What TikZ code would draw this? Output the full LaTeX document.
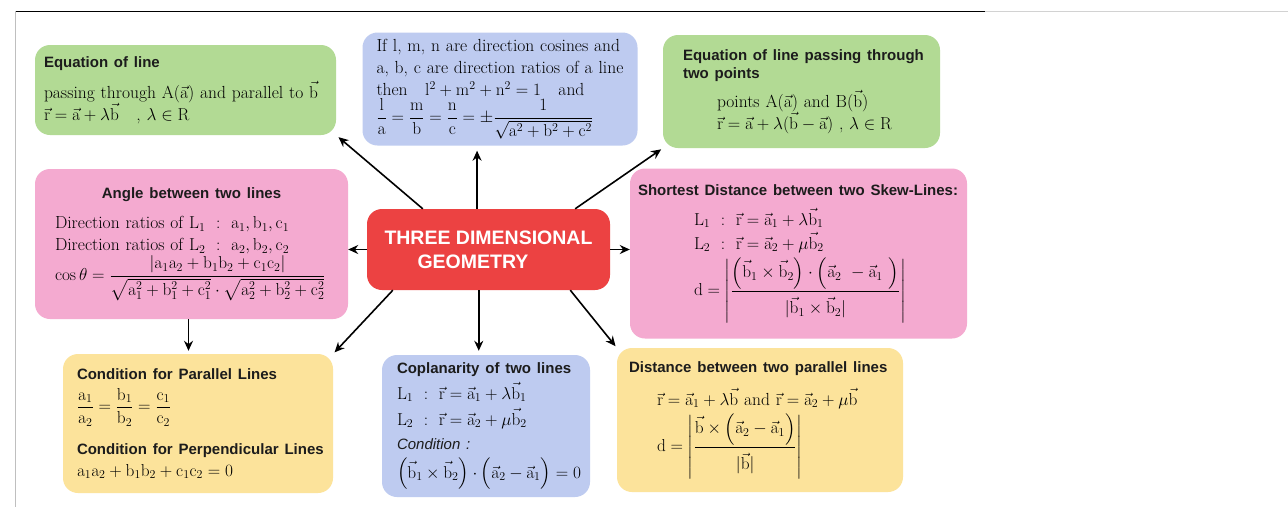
\documentclass[tikz,border=0pt]{standalone}
\usepackage{amsmath,amssymb}
\usepackage[no-math]{fontspec}
\usepackage{xcolor}
\usepackage{tikz}
\usetikzlibrary{arrows.meta, positioning, calc}
\newfontfamily\headfont{Liberation Sans}
\definecolor{leafgreen}{RGB}{178,218,148}
\definecolor{skyblue}{RGB}{190,203,240}
\definecolor{candypink}{RGB}{244,170,208}
\definecolor{sandyellow}{RGB}{252,227,155}
\definecolor{hubred}{RGB}{236,66,66}
\definecolor{inkgray}{RGB}{28,28,28}
\newcommand{\hd}[1]{{\headfont\bfseries\fontsize{15}{18}\selectfont\color{inkgray}#1}}
\newcommand{\veca}{\vec{\mathrm{a}}}
\newcommand{\vecb}{\vec{\mathrm{b}}}
\newcommand{\vecr}{\vec{\mathrm{r}}}

\begin{document}
\begin{tikzpicture}[
    x=1pt, y=-1pt,
    infobox/.style={rectangle, rounded corners=15pt, inner xsep=9pt, inner ysep=4pt, align=left, font=\fontsize{17.5}{22}\selectfont},
    greenbox/.style={infobox, fill=leafgreen},
    bluebox/.style={infobox, fill=skyblue},
    pinkbox/.style={infobox, fill=candypink},
    yellowbox/.style={infobox, fill=sandyellow},
    hubbox/.style={rectangle, rounded corners=15pt, fill=hubred, text=white, align=left, font=\headfont\bfseries\fontsize{19.5}{24}\selectfont},
    arrow/.style={-{Stealth[length=10pt,width=9pt]}, line width=1.6pt, black}
]
\fill[white] (0,0) rectangle (1288,507);
\useasboundingbox (0,0) rectangle (1288,507);
% frame of the page
\draw[line width=1pt, black] (15,11) -- (985,11);
\draw[line width=0.8pt, gray!35] (985,11) -- (1288,11);
\draw[line width=0.8pt, gray!50] (15,11) -- (15,507);

% centre
\node[hubbox, minimum width=243pt, minimum height=81pt] (hub) at (488.5,249.5)
  {THREE DIMENSIONAL\\\hspace*{33pt}GEOMETRY};

% top row
\node[greenbox, minimum width=301pt, minimum height=90pt, text width=283pt] (eqline) at (185.5,90)
  {\hd{Equation of line}\\[9pt]
   passing through A($\veca$) and parallel to $\vecb$\\
   $\vecr = \veca + \lambda\vecb$ \ \ , $\lambda\in\mathrm{R}$};
\node[bluebox, minimum width=275pt, minimum height=113pt, text width=265pt, inner xsep=5pt] (dircos) at (500,89)
  {\hspace*{9pt}If l, m, n are direction cosines and\\
   \hspace*{9pt}a, b, c are direction ratios of a line\\
   \hspace*{9pt}then\quad $\mathrm{l^2+m^2+n^2=1}$\quad and\\[1pt]
   \hspace*{9pt}$\mathrm{\dfrac{l}{a}=\dfrac{m}{b}=\dfrac{n}{c}=\pm\dfrac{1}{\sqrt{a^2+b^2+c^2}}}$};
\node[greenbox, minimum width=277pt, minimum height=113pt, text width=257pt] (twopt) at (801.5,91.5)
  {\hspace*{10pt}\hd{Equation of line passing through}\\[-4pt]
   \hspace*{10pt}\hd{two points}\\[7pt]
   \hspace*{44pt}points A($\veca$) and B($\vecb$)\\
   \hspace*{44pt}$\vecr = \veca + \lambda(\vecb - \veca)$ , $\lambda\in\mathrm{R}$};

% middle row
\node[pinkbox, minimum width=313pt, minimum height=150pt, text width=295pt] (angle) at (191.5,244)
  {\makebox[\linewidth]{\hd{Angle between two lines}}\\[8pt]
   \hspace*{11pt}Direction ratios of $\mathrm{L_1\ :\ a_1, b_1, c_1}$\\
   \hspace*{11pt}Direction ratios of $\mathrm{L_2\ :\ a_2, b_2, c_2}$\\[1pt]
   \hspace*{11pt}$\cos\theta = \dfrac{\mathrm{|a_1a_2+b_1b_2+c_1c_2|}}{\sqrt{\mathrm{a_1^2+b_1^2+c_1^2}}\cdot\sqrt{\mathrm{a_2^2+b_2^2+c_2^2}}}$};
\node[pinkbox, minimum width=337pt, minimum height=170pt, text width=321pt, inner xsep=8pt] (skew) at (798.5,253.5)
  {\hd{Shortest Distance between two Skew-Lines:}\\[8pt]
   \hspace*{56pt}$\mathrm{L_1}\ :\ \vecr = \veca_1 + \lambda\vecb_1$\\[2pt]
   \hspace*{56pt}$\mathrm{L_2}\ :\ \vecr = \veca_2 + \mu\vecb_2$\\[4pt]
   \hspace*{56pt}$\mathrm{d} = \left|\dfrac{\Bigl(\vecb_1\times\vecb_2\Bigr)\cdot\Bigl(\veca_2\ -\veca_1\ \Bigr)}{\rule{0pt}{20pt}|\vecb_1\times\vecb_2|}\right|$};

% bottom row
\node[yellowbox, minimum width=270pt, minimum height=139pt, text width=252pt] (parallel) at (198,423.5)
  {\hspace*{5pt}\hd{Condition for Parallel Lines}\\[8pt]
   \hspace*{5pt}$\mathrm{\dfrac{a_1}{a_2}=\dfrac{b_1}{b_2}=\dfrac{c_1}{c_2}}$\\[16pt]
   \hspace*{5pt}\hd{Condition for Perpendicular Lines}\\[0pt]
   \hspace*{5pt}$\mathrm{a_1a_2+b_1b_2+c_1c_2=0}$};
\node[bluebox, minimum width=208pt, minimum height=142pt, text width=190pt] (coplanar) at (486,426)
  {\hspace*{6pt}\hd{Coplanarity of two lines}\\[4pt]
   \hspace*{6pt}$\mathrm{L_1}\ :\ \vecr=\veca_1+\lambda\vecb_1$\\[4pt]
   \hspace*{6pt}$\mathrm{L_2}\ :\ \vecr=\veca_2+\mu\vecb_2$\\[2pt]
   \hspace*{6pt}{\headfont\itshape\fontsize{15}{18}\selectfont\color{inkgray}Condition :}\\[7pt]
   \hspace*{6pt}$\Bigl(\vecb_1\times\vecb_2\Bigr)\cdot\Bigl(\veca_2-\veca_1\Bigr)=0$};
\node[yellowbox, minimum width=286pt, minimum height=144pt, text width=268pt] (pardist) at (760,420)
  {\hspace*{3pt}\hd{Distance between two parallel lines}\\[11pt]
   \hspace*{31pt}$\vecr=\veca_1+\lambda\vecb$ and $\vecr=\veca_2+\mu\vecb$\\[4pt]
   \hspace*{31pt}$\mathrm{d}=\left|\dfrac{\vecb\times\Bigl(\veca_2-\veca_1\Bigr)}{\rule{0pt}{20pt}|\vecb|}\right|$};

% connectors
\coordinate (hubNW) at ($(hub.north west)!0.23!(hub.north east)$);
\coordinate (hubN) at ($(hub.north west)!0.453!(hub.north east)$);
\coordinate (hubNE) at ($(hub.north west)!0.856!(hub.north east)$);
\coordinate (hubSW) at ($(hub.south west)!0.107!(hub.south east)$);
\coordinate (hubS) at ($(hub.south west)!0.46!(hub.south east)$);
\coordinate (hubSE) at ($(hub.south west)!0.836!(hub.south east)$);
\draw[arrow, shorten >=3pt] (hubNW) -- (eqline.south east);
\draw[arrow, shorten >=5pt] (hubN) -- (hubN |- dircos.south);
\draw[arrow, shorten >=2pt] (hubNE) -- (twopt.south west);
\draw[arrow] (hub.west) -- (hub.west -| angle.east);
\draw[arrow] (hub.east) -- (hub.east -| skew.west);
\draw[arrow, shorten >=3pt] ([xshift=-3pt]angle.south) -- ([xshift=-3pt]angle.south |- parallel.north);
\draw[arrow, shorten >=2pt] (hubSW) -- (parallel.north east);
\draw[arrow, shorten >=4pt] (hubS) -- (hubS |- coplanar.north);
\draw[arrow, shorten >=2pt] (hubSE) -- (pardist.north west);
\end{tikzpicture}
\end{document}
